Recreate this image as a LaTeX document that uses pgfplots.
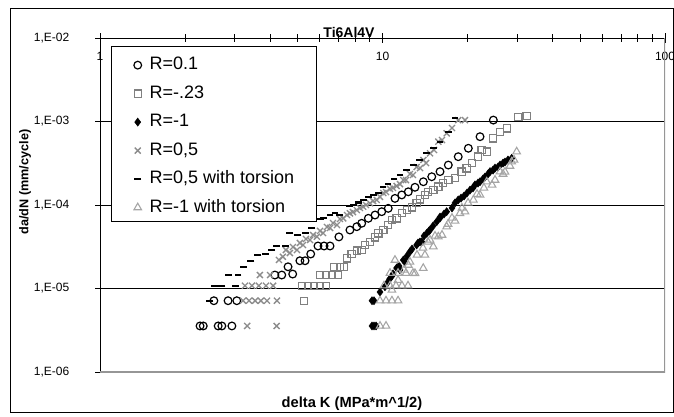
\documentclass[border=0pt]{standalone}
\usepackage{pgfplots}
\pgfplotsset{compat=1.18}
\usepackage{fontspec}
\setmainfont{Liberation Sans}

\definecolor{sqgray}{RGB}{128,128,128}
\definecolor{xgray}{RGB}{140,140,140}
\definecolor{trigray}{RGB}{165,165,165}
\definecolor{framegray}{RGB}{150,150,150}

\pgfplotsset{
  mk/.style={only marks,
    legend image code/.code={\draw[mark repeat=2,mark phase=2,##1] plot coordinates {(0pt,0pt) (5pt,0pt) (10pt,0pt)};}},
}

\begin{document}
\begin{tikzpicture}
\begin{axis}[
  xmode=log, ymode=log,
  scale only axis, width=423.75pt, height=250.5pt,
  xmin=1, xmax=100, ymin=1e-6, ymax=1e-2,
  axis x line=top, axis y line=left,
  axis line style={-, black, line width=0.6pt},
  xtick={1,10,100}, xticklabels={1,10,100},
  xminorticks=true, yminorticks=false,
  ytick={1e-6,1e-5,1e-4,1e-3,1e-2},
  yticklabels={{1,E-06},{1,E-05},{1,E-04},{1,E-03},{1,E-02}},
  tick align=center, major tick length=7pt, minor tick length=6pt,
  tick style={black, line width=0.6pt},
  ymajorgrids, grid style={black, line width=0.5pt},
  xticklabel style={anchor=north, yshift=-10.5pt},
  yticklabel style={anchor=east, xshift=-16pt},
  tick label style={font=\fontsize{9}{10}\selectfont},
  legend style={at={(0.0595,0.9435)}, anchor=north west, draw=none, fill=none,
    inner sep=0pt, row sep=9.36pt, font=\fontsize{13.5}{14}\selectfont,
    nodes={inner sep=0pt, text height=9.5pt, text depth=2.5pt},
    /tikz/every odd column/.style={column sep=6pt}},
  legend cell align=left,
]
% legend frame
\draw[black, line width=0.6pt, fill=white] (rel axis cs:0.0195,0.4521) rectangle (rel axis cs:0.3823,0.9761);

% R=0.1
\addplot[mk, mark=o, black, mark size=2.9pt, mark options={line width=0.9pt}] coordinates {
(2.26,3.56e-6)(2.32,3.56e-6)(2.62,3.56e-6)(2.70,3.56e-6)(2.93,3.56e-6)
(2.53,7.14e-6)(2.84,7.14e-6)(3.05,7.14e-6)
(4.16,1.45e-5)(4.40,1.45e-5)(4.63,1.82e-5)(4.81,1.49e-5)(5.10,2.15e-5)(5.32,2.15e-5)
(5.57,2.59e-5)(5.91,3.23e-5)(6.21,3.23e-5)(6.52,3.23e-5)(7.01,4.15e-5)(7.67,5.02e-5)
(8.11,5.50e-5)(8.44,6.04e-5)(8.91,6.93e-5)(9.41,7.59e-5)(9.94,8.32e-5)(10.48,9.12e-5)
(11.07,1.20e-4)(11.70,1.32e-4)(12.34,1.44e-4)(13.03,1.63e-4)(13.95,1.90e-4)(14.94,2.18e-4)
(15.98,2.51e-4)(17.10,3.01e-4)(18.54,3.79e-4)(20.13,4.78e-4)(22.14,6.58e-4)(24.68,1.04e-3)
};
\addlegendentry{R=0.1}

% R=-.23
\addplot[mk, mark=square, sqgray, mark size=2.7pt, mark options={line width=0.9pt}] coordinates {
(5.27,7.14e-6)
(5.19,1.08e-5)(5.45,1.08e-5)(5.72,1.08e-5)(6.01,1.08e-5)(6.31,1.08e-5)
(6.01,1.45e-5)(6.31,1.45e-5)(6.63,1.45e-5)(6.96,1.45e-5)
(6.73,1.82e-5)(7.07,1.82e-5)(7.30,1.82e-5)
(7.47,2.30e-5)(7.78,2.59e-5)(8.11,2.84e-5)(8.44,2.89e-5)(8.67,3.32e-5)(9.03,3.63e-5)
(9.41,4.10e-5)(9.67,4.58e-5)(10.07,5.02e-5)(10.48,5.76e-5)(10.78,6.61e-5)(11.22,6.93e-5)
(11.70,7.96e-5)(12.18,8.71e-5)(12.69,9.38e-5)(13.21,1.05e-4)(13.57,1.17e-4)(14.13,1.32e-4)
(14.52,1.44e-4)(15.14,1.51e-4)(15.76,1.66e-4)(16.41,1.82e-4)(17.10,1.99e-4)(18.06,2.09e-4)
(19.06,2.51e-4)(19.86,2.75e-4)(20.70,3.16e-4)(21.83,3.79e-4)(22.44,4.56e-4)(23.38,4.35e-4)
(24.67,6.29e-4)(26.06,7.55e-4)(27.53,8.29e-4)(30.25,1.14e-3)(32.37,1.16e-3)
};
\addlegendentry{R=-.23}

% R=-1
\addplot[mk, mark=diamond*, black, mark size=3pt] coordinates {
(9.18,3.56e-6)(9.33,3.56e-6)(9.49,3.56e-6)
(9.18,7.14e-6)(9.33,7.14e-6)(9.80,9.08e-6)
(10.20,1.05e-5)(10.46,1.20e-5)(10.60,1.30e-5)(10.80,1.41e-5)(10.90,1.50e-5)(11.22,1.76e-5)
(11.44,1.86e-5)(11.53,1.67e-5)(11.85,2.19e-5)(12.01,2.08e-5)(12.21,2.45e-5)(12.51,2.76e-5)
(12.72,2.97e-5)(13.21,3.32e-5)(13.36,3.51e-5)(13.57,3.61e-5)(13.77,3.63e-5)(14.03,4.26e-5)
(14.34,4.58e-5)(14.61,4.89e-5)(14.73,5.02e-5)(15.10,5.61e-5)(15.56,6.31e-5)(15.98,6.99e-5)
(15.98,7.18e-5)(16.51,7.80e-5)(16.87,8.32e-5)(17.62,9.21e-5)(18.06,1.06e-4)(18.54,1.15e-4)
(18.97,1.21e-4)(19.44,1.28e-4)(19.91,1.39e-4)(20.41,1.51e-4)(20.90,1.60e-4)(21.25,1.74e-4)
(21.78,1.83e-4)(22.14,1.90e-4)(22.69,2.05e-4)(23.05,2.16e-4)(23.63,2.35e-4)(24.02,2.51e-4)
(24.62,2.62e-4)(25.02,2.77e-4)(25.64,2.85e-4)(26.06,3.01e-4)(26.71,3.18e-4)(27.14,3.27e-4)
(27.81,3.46e-4)(28.66,3.62e-4)
};
\addlegendentry{R=-1}

% R=0,5
\addplot[mk, mark=x, xgray, mark size=3.2pt, mark options={line width=1pt}] coordinates {
(3.32,3.56e-6)(4.22,3.56e-6)
(3.21,7.14e-6)(3.37,7.14e-6)(3.54,7.14e-6)(3.71,7.14e-6)(3.90,7.14e-6)(4.23,7.14e-6)
(3.26,1.08e-5)(3.45,1.08e-5)(3.65,1.08e-5)(3.87,1.08e-5)(4.10,1.08e-5)
(3.68,1.45e-5)(4.00,1.45e-5)(4.30,2.20e-5)
(4.44,2.40e-5)(4.55,2.89e-5)(4.70,2.66e-5)(4.82,3.14e-5)(4.98,2.89e-5)(5.10,3.51e-5)
(5.23,3.32e-5)(5.36,3.92e-5)(5.54,3.81e-5)(5.68,4.37e-5)(5.86,4.17e-5)(6.01,4.89e-5)
(6.16,4.62e-5)(6.36,5.45e-5)(6.52,5.31e-5)(6.68,6.08e-5)(6.90,5.76e-5)(7.07,6.80e-5)
(7.26,6.93e-5)(7.49,7.59e-5)(7.67,7.96e-5)(7.86,8.24e-5)(8.11,8.71e-5)(8.32,9.21e-5)
(8.54,9.55e-5)(8.74,1.00e-4)(9.03,1.05e-4)(9.26,1.12e-4)(9.54,1.15e-4)(9.80,1.25e-4)
(10.07,1.39e-4)(10.29,1.43e-4)(10.63,1.56e-4)(10.89,1.60e-4)(11.22,1.69e-4)(11.53,1.78e-4)
(11.85,1.99e-4)(12.11,1.99e-4)(12.51,2.35e-4)(12.82,2.29e-4)(13.21,2.85e-4)(13.58,2.77e-4)
(13.95,3.46e-4)(14.26,3.18e-4)(14.73,4.16e-4)(15.22,4.56e-4)(15.76,5.73e-4)(16.24,6.00e-4)
(16.87,7.22e-4)(17.62,8.36e-4)(18.54,1.04e-3)(19.59,1.04e-3)
};
\addlegendentry{R=0,5}

% R=0,5 with torsion
\addplot[mk, mark=-, black, mark size=2.6pt, mark options={line width=1.6pt}] coordinates {
(2.45,7.14e-6)
(2.55,1.08e-5)(2.70,1.08e-5)(3.01,1.08e-5)
(2.84,1.45e-5)(3.08,1.45e-5)
(3.21,1.81e-5)(3.42,2.15e-5)(3.62,2.52e-5)(3.84,2.59e-5)(4.05,2.89e-5)(4.22,3.23e-5)
(4.52,3.23e-5)(4.70,4.66e-5)(5.02,4.37e-5)(5.32,4.66e-5)(5.62,5.26e-5)(6.01,6.74e-5)
(6.17,7.05e-5)(6.52,7.59e-5)(6.79,7.96e-5)(7.07,7.59e-5)(7.67,9.73e-5)(7.88,1.00e-4)
(8.21,1.07e-4)(8.55,1.15e-4)(8.91,1.26e-4)(9.28,1.32e-4)(9.67,1.38e-4)(10.04,1.64e-4)
(10.46,1.78e-4)(10.98,2.05e-4)(11.53,2.29e-4)(12.18,2.62e-4)(12.85,3.01e-4)(13.57,3.46e-4)
(14.34,4.16e-4)(15.13,4.78e-4)(15.98,5.73e-4)(17.10,7.55e-4)(18.06,1.09e-3)
};
\addlegendentry{R=0,5 with torsion}

% R=-1 with torsion
\addplot[mk, mark=triangle, trigray, mark size=3.3pt, mark options={line width=0.8pt}] coordinates {
(9.80,3.56e-6)(10.29,3.56e-6)
(9.80,7.14e-6)(10.29,7.14e-6)(10.80,7.14e-6)(11.35,7.14e-6)
(10.80,9.60e-6)(10.12,1.08e-5)(10.63,1.08e-5)(11.16,1.08e-5)(11.72,1.08e-5)(12.31,1.08e-5)
(11.35,1.26e-5)(10.63,1.53e-5)(11.35,1.53e-5)(12.11,1.53e-5)(12.82,1.53e-5)
(11.91,1.67e-5)(11.07,2.19e-5)(12.34,1.91e-5)(12.51,2.08e-5)(13.03,1.52e-5)(13.94,1.75e-5)
(13.25,2.52e-5)(14.13,2.52e-5)(13.91,3.06e-5)(14.49,3.61e-5)(15.13,3.17e-5)(14.73,3.81e-5)
(15.34,4.26e-5)(15.76,4.17e-5)(16.24,4.37e-5)(16.87,5.50e-5)(17.06,5.92e-5)(17.62,6.99e-5)
(18.06,6.45e-5)(18.80,7.95e-5)(19.11,9.21e-5)(19.59,8.32e-5)(20.08,1.06e-4)(20.97,1.15e-4)
(21.61,1.35e-4)(22.14,1.32e-4)(22.86,1.60e-4)(23.38,1.90e-4)(24.42,1.74e-4)(25.02,1.99e-4)
(26.06,2.51e-4)(26.71,2.35e-4)(27.14,2.49e-4)(28.26,2.93e-4)(28.66,3.30e-4)(29.22,3.46e-4)
(29.85,4.35e-4)
};
\addlegendentry{R=-1 with torsion}

% plot area border (right and bottom)
\draw[framegray, line width=1pt] (rel axis cs:0,0) -- (rel axis cs:1,0) -- (rel axis cs:1,1);
\end{axis}

\node[font=\bfseries\fontsize{10.5}{12}\selectfont] at (186.75pt,254.25pt) {Ti6Al4V};
\node[font=\bfseries\fontsize{11}{13}\selectfont] at (189pt,-24pt) {delta K (MPa*m\textasciicircum 1/2)};
\node[rotate=90, font=\bfseries\fontsize{9.5}{11}\selectfont] at (-56.25pt,142.5pt) {da/dN (mm/cycle)};
\draw[black, line width=0.75pt] (-66.75pt,-30.75pt) rectangle (430.1pt,272.25pt);

\pgfresetboundingbox
\path[use as bounding box] (-75pt,-33.75pt) rectangle (430.5pt,279pt);
\end{tikzpicture}
\end{document}
